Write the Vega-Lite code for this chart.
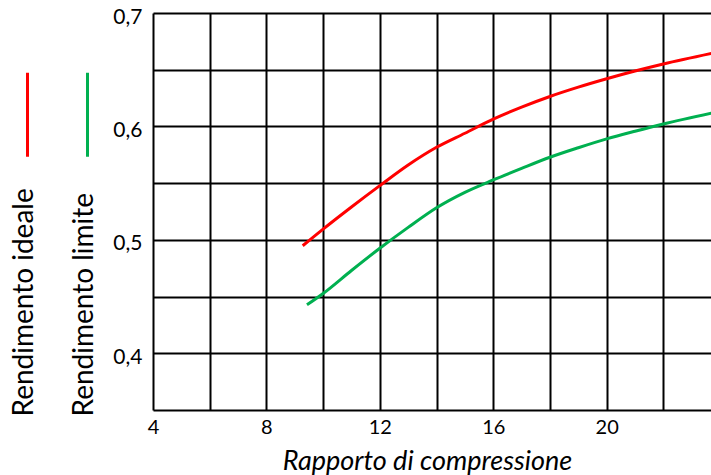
{
  "$schema": "https://vega.github.io/schema/vega-lite/v6.json",
  "width": 558,
  "height": 397,
  "autosize": {"type": "none"},
  "padding": {"left": 153, "top": 13, "right": 0, "bottom": 65},
  "background": "white",
  "config": {
    "view": {"stroke": null},
    "font": "Lato",
    "axis": {
      "domain": false,
      "ticks": false,
      "grid": true,
      "gridColor": "black",
      "gridWidth": 2,
      "gridOpacity": 1,
      "labelColor": "black",
      "titleColor": "black",
      "labelFont": "Lato",
      "titleFont": "Lato"
    }
  },
  "data": {
    "values": [
      {"rapporto": 9.28, "rendimento": 0.4948, "serie": "Rendimento ideale"},
      {"rapporto": 10, "rendimento": 0.5095, "serie": "Rendimento ideale"},
      {"rapporto": 11, "rendimento": 0.529, "serie": "Rendimento ideale"},
      {"rapporto": 12, "rendimento": 0.5478, "serie": "Rendimento ideale"},
      {"rapporto": 13, "rendimento": 0.566, "serie": "Rendimento ideale"},
      {"rapporto": 14, "rendimento": 0.5816, "serie": "Rendimento ideale"},
      {"rapporto": 15, "rendimento": 0.594, "serie": "Rendimento ideale"},
      {"rapporto": 16, "rendimento": 0.6064, "serie": "Rendimento ideale"},
      {"rapporto": 17, "rendimento": 0.617, "serie": "Rendimento ideale"},
      {"rapporto": 18, "rendimento": 0.6264, "serie": "Rendimento ideale"},
      {"rapporto": 19, "rendimento": 0.6346, "serie": "Rendimento ideale"},
      {"rapporto": 20, "rendimento": 0.642, "serie": "Rendimento ideale"},
      {"rapporto": 21, "rendimento": 0.6488, "serie": "Rendimento ideale"},
      {"rapporto": 22, "rendimento": 0.655, "serie": "Rendimento ideale"},
      {"rapporto": 23.69, "rendimento": 0.6643, "serie": "Rendimento ideale"},
      {"rapporto": 9.43, "rendimento": 0.4427, "serie": "Rendimento limite"},
      {"rapporto": 10, "rendimento": 0.4527, "serie": "Rendimento limite"},
      {"rapporto": 11, "rendimento": 0.473, "serie": "Rendimento limite"},
      {"rapporto": 12, "rendimento": 0.4926, "serie": "Rendimento limite"},
      {"rapporto": 13, "rendimento": 0.511, "serie": "Rendimento limite"},
      {"rapporto": 14, "rendimento": 0.5283, "serie": "Rendimento limite"},
      {"rapporto": 15, "rendimento": 0.5419, "serie": "Rendimento limite"},
      {"rapporto": 16, "rendimento": 0.5528, "serie": "Rendimento limite"},
      {"rapporto": 17, "rendimento": 0.563, "serie": "Rendimento limite"},
      {"rapporto": 18, "rendimento": 0.5728, "serie": "Rendimento limite"},
      {"rapporto": 19, "rendimento": 0.5812, "serie": "Rendimento limite"},
      {"rapporto": 20, "rendimento": 0.589, "serie": "Rendimento limite"},
      {"rapporto": 21, "rendimento": 0.5958, "serie": "Rendimento limite"},
      {"rapporto": 22, "rendimento": 0.6022, "serie": "Rendimento limite"},
      {"rapporto": 23.69, "rendimento": 0.6117, "serie": "Rendimento limite"}
    ]
  },
  "mark": {"type": "line", "strokeWidth": 3, "interpolate": "monotone", "clip": true},
  "encoding": {
    "x": {
      "field": "rapporto",
      "type": "quantitative",
      "scale": {"domain": [4, 23.68], "nice": false, "zero": false},
      "axis": {
        "values": [4, 6, 8, 10, 12, 14, 16, 18, 20, 22],
        "labelExpr": "datum.value % 4 == 0 ? datum.label : ''",
        "labelFontSize": 20,
        "labelPadding": 7,
        "labelFlush": false,
        "title": "Rapporto di compressione",
        "titleFontSize": 27,
        "titleFontStyle": "italic",
        "titleFontWeight": "normal",
        "titlePadding": 11,
        "titleX": 274
      }
    },
    "y": {
      "field": "rendimento",
      "type": "quantitative",
      "scale": {"domain": [0.35, 0.7], "nice": false, "zero": false},
      "axis": {
        "values": [0.35, 0.4, 0.45, 0.5, 0.55, 0.6, 0.65, 0.7],
        "labelExpr": "abs(datum.value * 10 - round(datum.value * 10)) < 0.001 ? replace(format(datum.value, '.1f'), '.', ',') : ''",
        "labelFontSize": 21,
        "labelPadding": 11,
        "labelOffset": 4,
        "labelFlush": false,
        "title": ["Rendimento ideale", "Rendimento limite"],
        "titleFontSize": 28,
        "titleFontWeight": "normal",
        "titleLineHeight": 60,
        "titleAngle": 270,
        "titleAlign": "left",
        "titleBaseline": "top",
        "titleX": -143,
        "titleY": 403
      }
    },
    "color": {
      "field": "serie",
      "type": "nominal",
      "scale": {"domain": ["Rendimento ideale", "Rendimento limite"], "range": ["#ff0000", "#00b050"]},
      "legend": {
        "orient": "none",
        "legendX": -148,
        "legendY": 79,
        "direction": "horizontal",
        "title": null,
        "symbolType": "M0,-2L0,2",
        "symbolSize": 1764,
        "symbolStrokeWidth": 3,
        "labelExpr": "''",
        "labelFontSize": 1,
        "labelOffset": 0,
        "columnPadding": 15,
        "padding": 0
      }
    }
  }
}
